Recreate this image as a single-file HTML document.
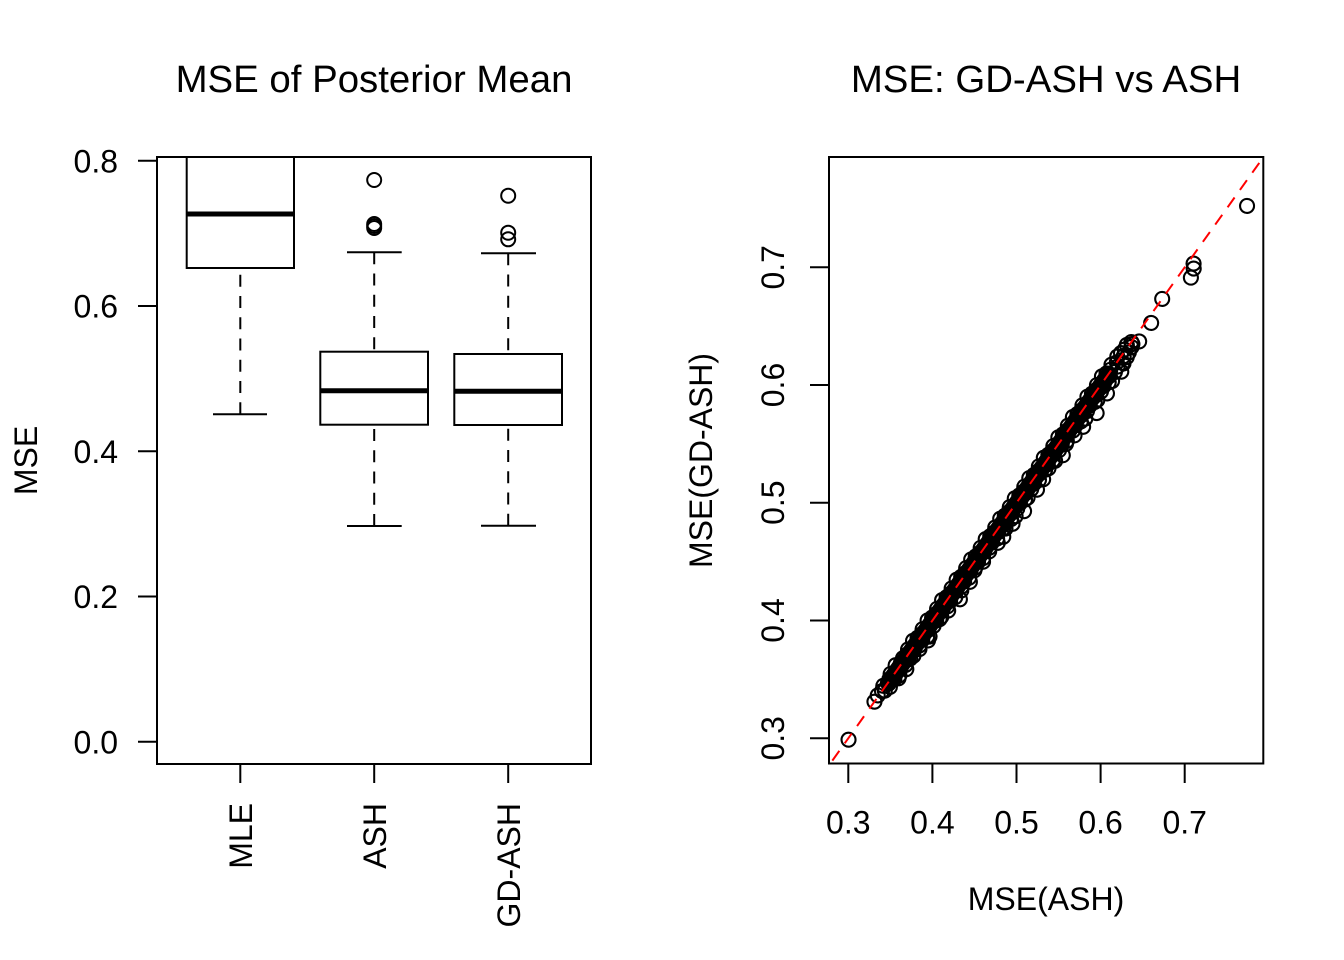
<!DOCTYPE html>
<html><head><meta charset="utf-8"><style>
html,body{margin:0;padding:0;background:#fff;}
svg{display:block;font-family:"Liberation Sans",Arial,sans-serif;}
</style></head><body>
<svg width="1344" height="960" viewBox="0 0 1344 960" xmlns="http://www.w3.org/2000/svg">
<defs>
<clipPath id="cl"><rect x="157" y="157" width="434" height="607"/></clipPath>
<clipPath id="cr"><rect x="829" y="157" width="434.3" height="606.5"/></clipPath>
</defs>
<rect width="1344" height="960" fill="#fff"/>

<!-- LEFT PANEL -->
<text x="374" y="92" font-size="38.4" text-anchor="middle">MSE of Posterior Mean</text>
<g stroke="#000" stroke-width="2" fill="none">
<rect x="157" y="157" width="434" height="607"/>
<line x1="138" y1="160.7" x2="157" y2="160.7"/>
<line x1="138" y1="306" x2="157" y2="306"/>
<line x1="138" y1="451.3" x2="157" y2="451.3"/>
<line x1="138" y1="596.5" x2="157" y2="596.5"/>
<line x1="138" y1="741.8" x2="157" y2="741.8"/>
<line x1="240.3" y1="764" x2="240.3" y2="783"/>
<line x1="374.2" y1="764" x2="374.2" y2="783"/>
<line x1="508.2" y1="764" x2="508.2" y2="783"/>
</g>
<g font-size="32" text-anchor="end">
<text x="118" y="172.5">0.8</text>
<text x="118" y="317.5">0.6</text>
<text x="118" y="463">0.4</text>
<text x="118" y="608">0.2</text>
<text x="118" y="753.5">0.0</text>
</g>
<text transform="translate(37,460.5) rotate(-90)" font-size="32" text-anchor="middle">MSE</text>
<g font-size="32" text-anchor="end">
<text transform="translate(252,803) rotate(-90)">MLE</text>
<text transform="translate(386,803) rotate(-90)">ASH</text>
<text transform="translate(520,803) rotate(-90)">GD-ASH</text>
</g>
<g clip-path="url(#cl)" stroke="#000" fill="none" stroke-width="2">
<!-- MLE -->
<rect x="186.7" y="140" width="107.3" height="128"/>
<line x1="186.7" y1="214" x2="294" y2="214" stroke-width="5"/>
<line x1="240.3" y1="414.3" x2="240.3" y2="268" stroke-dasharray="12 9.25"/>
<line x1="213" y1="414.3" x2="267" y2="414.3"/>
<!-- ASH -->
<rect x="320.3" y="351.7" width="107.7" height="73"/>
<line x1="320.3" y1="390.7" x2="428" y2="390.7" stroke-width="5"/>
<line x1="374.2" y1="252.3" x2="374.2" y2="351.7" stroke-dasharray="12 9.25"/>
<line x1="374.2" y1="526" x2="374.2" y2="424.7" stroke-dasharray="12 9.25"/>
<line x1="347" y1="252.3" x2="401.7" y2="252.3"/>
<line x1="347" y1="526" x2="401.7" y2="526"/>
<circle cx="374.2" cy="180" r="7"/>
<circle cx="374.2" cy="224" r="7"/>
<circle cx="374.2" cy="226" r="7"/>
<circle cx="374.2" cy="228" r="7"/>
<!-- GD-ASH -->
<rect x="454.3" y="354" width="107.7" height="71"/>
<line x1="454.3" y1="391.3" x2="562" y2="391.3" stroke-width="5"/>
<line x1="508.2" y1="253.3" x2="508.2" y2="354" stroke-dasharray="12 9.25"/>
<line x1="508.2" y1="525.7" x2="508.2" y2="425" stroke-dasharray="12 9.25"/>
<line x1="481" y1="253.3" x2="536" y2="253.3"/>
<line x1="481" y1="525.7" x2="536" y2="525.7"/>
<circle cx="508.2" cy="195.7" r="7"/>
<circle cx="508.2" cy="232.7" r="7"/>
<circle cx="508.2" cy="239.3" r="7"/>
</g>

<!-- RIGHT PANEL -->
<text x="1046" y="92" font-size="38.4" text-anchor="middle">MSE: GD-ASH vs ASH</text>
<g stroke="#000" stroke-width="2" fill="none">
<rect x="829" y="157" width="434.3" height="606.5"/>
<line x1="810" y1="267.3" x2="829" y2="267.3"/>
<line x1="810" y1="385" x2="829" y2="385"/>
<line x1="810" y1="502.7" x2="829" y2="502.7"/>
<line x1="810" y1="620.5" x2="829" y2="620.5"/>
<line x1="810" y1="738.3" x2="829" y2="738.3"/>
<line x1="848.3" y1="764" x2="848.3" y2="783"/>
<line x1="932.4" y1="764" x2="932.4" y2="783"/>
<line x1="1016.5" y1="764" x2="1016.5" y2="783"/>
<line x1="1100.6" y1="764" x2="1100.6" y2="783"/>
<line x1="1184.7" y1="764" x2="1184.7" y2="783"/>
</g>
<g font-size="32" text-anchor="middle">
<text x="848.3" y="833.5">0.3</text>
<text x="932.4" y="833.5">0.4</text>
<text x="1016.5" y="833.5">0.5</text>
<text x="1100.6" y="833.5">0.6</text>
<text x="1184.7" y="833.5">0.7</text>
<text transform="translate(784,267.3) rotate(-90)">0.7</text>
<text transform="translate(784,385) rotate(-90)">0.6</text>
<text transform="translate(784,502.7) rotate(-90)">0.5</text>
<text transform="translate(784,620.5) rotate(-90)">0.4</text>
<text transform="translate(784,738.3) rotate(-90)">0.3</text>
<text x="1046" y="910">MSE(ASH)</text>
<text transform="translate(712,460.5) rotate(-90)">MSE(GD-ASH)</text>
</g>

<g clip-path="url(#cr)">
<g transform="translate(848.3,738.3) rotate(-54.46)" fill="none" stroke="#000" stroke-width="2.1">
<!-- solid core of the dense band -->
<rect x="60" y="-8" width="396" height="17" rx="8" fill="#000" stroke="none"/>
<!-- outliers -->
<circle cx="-1" cy="1" r="7"/><circle cx="101" cy="4" r="7"/><circle cx="130" cy="7" r="7"/>
<circle cx="178" cy="10" r="7"/><circle cx="254" cy="9" r="7"/><circle cx="270" cy="9" r="7"/>
<circle cx="287" cy="11" r="7"/><circle cx="312" cy="9" r="7"/><circle cx="355" cy="10" r="7"/>
<circle cx="390" cy="10" r="7"/><circle cx="409" cy="13" r="7"/><circle cx="431" cy="10" r="7"/>
<circle cx="457" cy="9" r="7"/><circle cx="472" cy="5" r="7"/><circle cx="486" cy="2" r="7"/>
<circle cx="492" cy="6" r="7"/><circle cx="514" cy="5" r="7"/><circle cx="540" cy="0" r="7"/>
<circle cx="574" cy="11" r="7"/><circle cx="583" cy="8" r="7"/><circle cx="587" cy="5" r="7"/>
<circle cx="665" cy="15" r="7"/>
<!-- series 1 -->
<circle cx="45" cy="0" r="7"/><circle cx="52" cy="-1" r="7"/><circle cx="58" cy="0" r="7"/>
<circle cx="63" cy="-2" r="7"/><circle cx="68" cy="1" r="7"/><circle cx="72" cy="-1" r="7"/>
<circle cx="77" cy="-3" r="7"/><circle cx="82" cy="0" r="7"/><circle cx="87" cy="-4" r="7"/>
<circle cx="92" cy="-1" r="7"/><circle cx="97" cy="-2" r="7"/><circle cx="102" cy="-1" r="7"/>
<circle cx="107" cy="-3" r="7"/><circle cx="112" cy="0" r="7"/><circle cx="117" cy="-4" r="7"/>
<circle cx="122" cy="-2" r="7"/><circle cx="127" cy="-1" r="7"/><circle cx="132" cy="-3" r="7"/>
<circle cx="137" cy="0" r="7"/><circle cx="142" cy="-4" r="7"/><circle cx="147" cy="-2" r="7"/>
<circle cx="152" cy="-1" r="7"/><circle cx="157" cy="-3" r="7"/><circle cx="162" cy="0" r="7"/>
<circle cx="167" cy="-4" r="7"/><circle cx="172" cy="-2" r="7"/><circle cx="177" cy="-1" r="7"/>
<circle cx="182" cy="-3" r="7"/><circle cx="187" cy="0" r="7"/><circle cx="192" cy="-4" r="7"/>
<circle cx="197" cy="-2" r="7"/><circle cx="202" cy="-1" r="7"/><circle cx="207" cy="-3" r="7"/>
<circle cx="212" cy="0" r="7"/><circle cx="217" cy="-4" r="7"/><circle cx="222" cy="-2" r="7"/>
<circle cx="227" cy="-1" r="7"/><circle cx="232" cy="-3" r="7"/><circle cx="237" cy="0" r="7"/>
<circle cx="242" cy="-4" r="7"/><circle cx="247" cy="-2" r="7"/><circle cx="252" cy="-1" r="7"/>
<circle cx="257" cy="-3" r="7"/><circle cx="262" cy="0" r="7"/><circle cx="267" cy="-4" r="7"/>
<circle cx="272" cy="-2" r="7"/><circle cx="277" cy="-1" r="7"/><circle cx="282" cy="-3" r="7"/>
<circle cx="287" cy="0" r="7"/><circle cx="292" cy="-4" r="7"/><circle cx="297" cy="-2" r="7"/>
<circle cx="302" cy="-1" r="7"/><circle cx="307" cy="-3" r="7"/><circle cx="312" cy="0" r="7"/>
<circle cx="317" cy="-4" r="7"/><circle cx="322" cy="-2" r="7"/><circle cx="327" cy="-1" r="7"/>
<circle cx="332" cy="-3" r="7"/><circle cx="337" cy="0" r="7"/><circle cx="342" cy="-4" r="7"/>
<circle cx="347" cy="-2" r="7"/><circle cx="352" cy="-1" r="7"/><circle cx="357" cy="-3" r="7"/>
<circle cx="362" cy="0" r="7"/><circle cx="367" cy="-4" r="7"/><circle cx="372" cy="-2" r="7"/>
<circle cx="377" cy="-1" r="7"/><circle cx="382" cy="-3" r="7"/><circle cx="387" cy="0" r="7"/>
<circle cx="392" cy="-4" r="7"/><circle cx="397" cy="-2" r="7"/><circle cx="402" cy="-1" r="7"/>
<circle cx="407" cy="-3" r="7"/><circle cx="412" cy="0" r="7"/><circle cx="417" cy="-4" r="7"/>
<circle cx="422" cy="-2" r="7"/><circle cx="427" cy="-1" r="7"/><circle cx="432" cy="-3" r="7"/>
<circle cx="437" cy="0" r="7"/><circle cx="442" cy="-4" r="7"/><circle cx="447" cy="-2" r="7"/>
<circle cx="452" cy="-1" r="7"/><circle cx="457" cy="-3" r="7"/><circle cx="462" cy="0" r="7"/>
<circle cx="467" cy="-3" r="7"/><circle cx="472" cy="-2" r="7"/><circle cx="477" cy="-1" r="7"/>
<circle cx="482" cy="-2" r="7"/><circle cx="487" cy="0" r="7"/>
<!-- series 2 -->
<circle cx="60" cy="2" r="7"/><circle cx="66" cy="4" r="7"/><circle cx="75" cy="3" r="7"/>
<circle cx="81" cy="5" r="7"/><circle cx="87" cy="2" r="7"/><circle cx="93" cy="4" r="7"/>
<circle cx="99" cy="3" r="7"/><circle cx="105" cy="5" r="7"/><circle cx="111" cy="2" r="7"/>
<circle cx="117" cy="4" r="7"/><circle cx="123" cy="3" r="7"/><circle cx="129" cy="5" r="7"/>
<circle cx="135" cy="2" r="7"/><circle cx="141" cy="4" r="7"/><circle cx="147" cy="3" r="7"/>
<circle cx="153" cy="5" r="7"/><circle cx="159" cy="2" r="7"/><circle cx="165" cy="4" r="7"/>
<circle cx="171" cy="3" r="7"/><circle cx="177" cy="5" r="7"/><circle cx="183" cy="2" r="7"/>
<circle cx="189" cy="4" r="7"/><circle cx="195" cy="3" r="7"/><circle cx="201" cy="5" r="7"/>
<circle cx="207" cy="2" r="7"/><circle cx="213" cy="4" r="7"/><circle cx="219" cy="3" r="7"/>
<circle cx="225" cy="5" r="7"/><circle cx="231" cy="2" r="7"/><circle cx="237" cy="4" r="7"/>
<circle cx="243" cy="3" r="7"/><circle cx="249" cy="5" r="7"/><circle cx="255" cy="2" r="7"/>
<circle cx="261" cy="4" r="7"/><circle cx="267" cy="3" r="7"/><circle cx="273" cy="5" r="7"/>
<circle cx="279" cy="2" r="7"/><circle cx="285" cy="4" r="7"/><circle cx="291" cy="3" r="7"/>
<circle cx="297" cy="5" r="7"/><circle cx="303" cy="2" r="7"/><circle cx="309" cy="4" r="7"/>
<circle cx="315" cy="3" r="7"/><circle cx="321" cy="5" r="7"/><circle cx="327" cy="2" r="7"/>
<circle cx="333" cy="4" r="7"/><circle cx="339" cy="3" r="7"/><circle cx="345" cy="5" r="7"/>
<circle cx="351" cy="2" r="7"/><circle cx="357" cy="4" r="7"/><circle cx="363" cy="3" r="7"/>
<circle cx="369" cy="5" r="7"/><circle cx="375" cy="2" r="7"/><circle cx="381" cy="4" r="7"/>
<circle cx="387" cy="3" r="7"/><circle cx="393" cy="5" r="7"/><circle cx="399" cy="2" r="7"/>
<circle cx="405" cy="4" r="7"/><circle cx="411" cy="3" r="7"/><circle cx="417" cy="5" r="7"/>
<circle cx="423" cy="2" r="7"/><circle cx="429" cy="4" r="7"/><circle cx="435" cy="3" r="7"/>
<circle cx="441" cy="5" r="7"/><circle cx="447" cy="2" r="7"/><circle cx="453" cy="4" r="7"/>
<circle cx="459" cy="3" r="7"/><circle cx="465" cy="5" r="7"/><circle cx="471" cy="2" r="7"/>
<circle cx="477" cy="4" r="7"/><circle cx="483" cy="3" r="7"/>
<!-- series 3 -->
<circle cx="78" cy="6" r="7"/><circle cx="90" cy="7" r="7"/><circle cx="114" cy="6" r="7"/>
<circle cx="126" cy="8" r="7"/><circle cx="150" cy="5" r="7"/><circle cx="162" cy="7" r="7"/>
<circle cx="186" cy="6" r="7"/><circle cx="198" cy="8" r="7"/><circle cx="210" cy="5" r="7"/>
<circle cx="222" cy="7" r="7"/><circle cx="234" cy="6" r="7"/><circle cx="246" cy="8" r="7"/>
<circle cx="262" cy="6" r="7"/><circle cx="278" cy="7" r="7"/><circle cx="300" cy="6" r="7"/>
<circle cx="324" cy="8" r="7"/><circle cx="336" cy="6" r="7"/><circle cx="346" cy="7" r="7"/>
<circle cx="366" cy="6" r="7"/><circle cx="378" cy="8" r="7"/><circle cx="398" cy="7" r="7"/>
<circle cx="420" cy="6" r="7"/><circle cx="444" cy="7" r="7"/><circle cx="465" cy="6" r="7"/>
</g>
<line x1="820" y1="777.9" x2="1270" y2="147.9" stroke="#ff0000" stroke-width="2" stroke-dasharray="12 9.25"/>
</g>
</svg>
</body></html>
